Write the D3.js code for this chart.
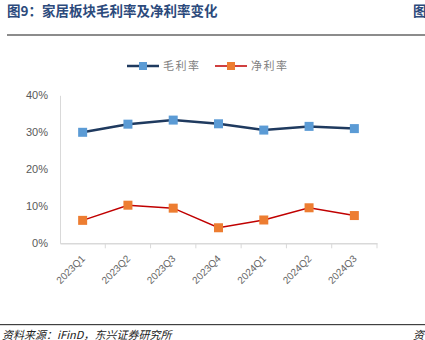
<!DOCTYPE html>
<html><head><meta charset="utf-8">
<script src="https://cdn.jsdelivr.net/npm/d3@7"></script>
<style>body{margin:0;background:#fff}svg{display:block}</style>
</head><body>
<script>
const categories = ["2023Q1","2023Q2","2023Q3","2023Q4","2024Q1","2024Q2","2024Q3"];
const grossMargin = [30.0, 32.2, 33.3, 32.3, 30.6, 31.6, 31.0];
const netMargin = [6.2, 10.3, 9.5, 4.2, 6.3, 9.6, 7.5];
const yTicks = [0, 10, 20, 30, 40];
const seriesNames = ["毛利率", "净利率"];

(function () {
const W = 425, H = 340;
const svg = d3.select("body").append("svg").attr("width", W).attr("height", H);
const font = "'Noto Sans CJK SC', 'Liberation Sans', sans-serif";

// Title
svg.append("text").attr("x", 7).attr("y", 16).attr("font-family", font)
  .attr("font-size", 13.5).attr("font-weight", "bold").attr("fill", "#2c4a7c")
  .text("图9：家居板块毛利率及净利率变化");
svg.append("text").attr("x", 413).attr("y", 16).attr("font-family", font)
  .attr("font-size", 13.5).attr("font-weight", "bold").attr("fill", "#2c4a7c").text("图");
svg.append("rect").attr("x", 7).attr("y", 34).attr("width", 418).attr("height", 2).attr("fill", "#8c8c8c");

// Footer
svg.append("rect").attr("x", 0).attr("y", 324).attr("width", 425).attr("height", 1.2).attr("fill", "#404040");
svg.append("text").attr("x", 2).attr("y", 338.5).attr("font-family", font)
  .attr("font-size", 11).attr("font-style", "italic").attr("fill", "#222")
  .text("资料来源：iFinD，东兴证券研究所");
svg.append("text").attr("x", 413).attr("y", 338.5).attr("font-family", font)
  .attr("font-size", 11).attr("font-style", "italic").attr("fill", "#222").text("资");

const pl = 60, pr = 377, pt = 95.3, pb = 243.3;
const x = d3.scaleBand().domain(categories).range([pl, pr]);
const y = d3.scaleLinear().domain([0, 40]).range([pb, pt]);

// y axis
const yAxis = svg.append("g").attr("transform", `translate(${pl},0)`)
  .call(d3.axisLeft(y).tickValues(yTicks).tickFormat(d => d + "%").tickSize(0).tickPadding(12));
yAxis.select(".domain").attr("stroke", "#d9d9d9");
yAxis.selectAll("text").attr("font-family", "'Liberation Sans', Arial, sans-serif").attr("font-size", 11).attr("fill", "#595959");

// x axis
const xAxis = svg.append("g").attr("transform", `translate(0,${pb})`)
  .call(d3.axisBottom(x).tickSize(0).tickSizeOuter(0));
xAxis.select(".domain").attr("stroke", "#d9d9d9").attr("stroke-width", 1.5);
xAxis.selectAll(".tick line").remove();
const bounds = categories.map(c => x(c)).concat([pr]);
xAxis.selectAll(".bt").data(bounds.slice(1)).enter().append("line")
  .attr("x1", d => d).attr("x2", d => d).attr("y1", 0).attr("y2", 5).attr("stroke", "#d9d9d9");
xAxis.selectAll(".tick text").attr("font-family", "'Liberation Sans', Arial, sans-serif")
  .attr("font-size", 10).attr("fill", "#666")
  .attr("text-anchor", "end").attr("dy", 0).attr("y", 0)
  .attr("transform", "translate(3,16) rotate(-45)");

const cx = c => x(c) + x.bandwidth() / 2;

function drawSeries(vals, lineColor, lw, markColor) {
  const line = d3.line().x((d, i) => cx(categories[i])).y(d => y(d));
  svg.append("path").datum(vals).attr("d", line).attr("fill", "none")
    .attr("stroke", lineColor).attr("stroke-width", lw);
  svg.append("g").selectAll("rect").data(vals).enter().append("rect")
    .attr("x", (d, i) => cx(categories[i]) - 4.5).attr("y", d => y(d) - 4.5)
    .attr("width", 9).attr("height", 9).attr("fill", markColor);
}
drawSeries(grossMargin, "#1f3a5f", 2.5, "#5b9bd5");
drawSeries(netMargin, "#c00000", 1.5, "#ed7d31");

const legend = [
  {name: seriesNames[0], x: 127, lc: "#1f3a5f", lw: 2.5, mc: "#5b9bd5"},
  {name: seriesNames[1], x: 215, lc: "#c00000", lw: 1.5, mc: "#ed7d31"}
];
legend.forEach(l => {
  const ly = 66;
  svg.append("line").attr("x1", l.x).attr("x2", l.x + 32).attr("y1", ly).attr("y2", ly)
    .attr("stroke", l.lc).attr("stroke-width", l.lw);
  svg.append("rect").attr("x", l.x + 12).attr("y", ly - 4).attr("width", 8).attr("height", 8).attr("fill", l.mc);
  svg.append("text").attr("x", l.x + 36).attr("y", ly + 4).attr("font-family", font)
    .attr("font-size", 11).attr("letter-spacing", 1.5).attr("fill", "#7f7f7f").text(l.name);
});
})();
</script>
</body></html>
